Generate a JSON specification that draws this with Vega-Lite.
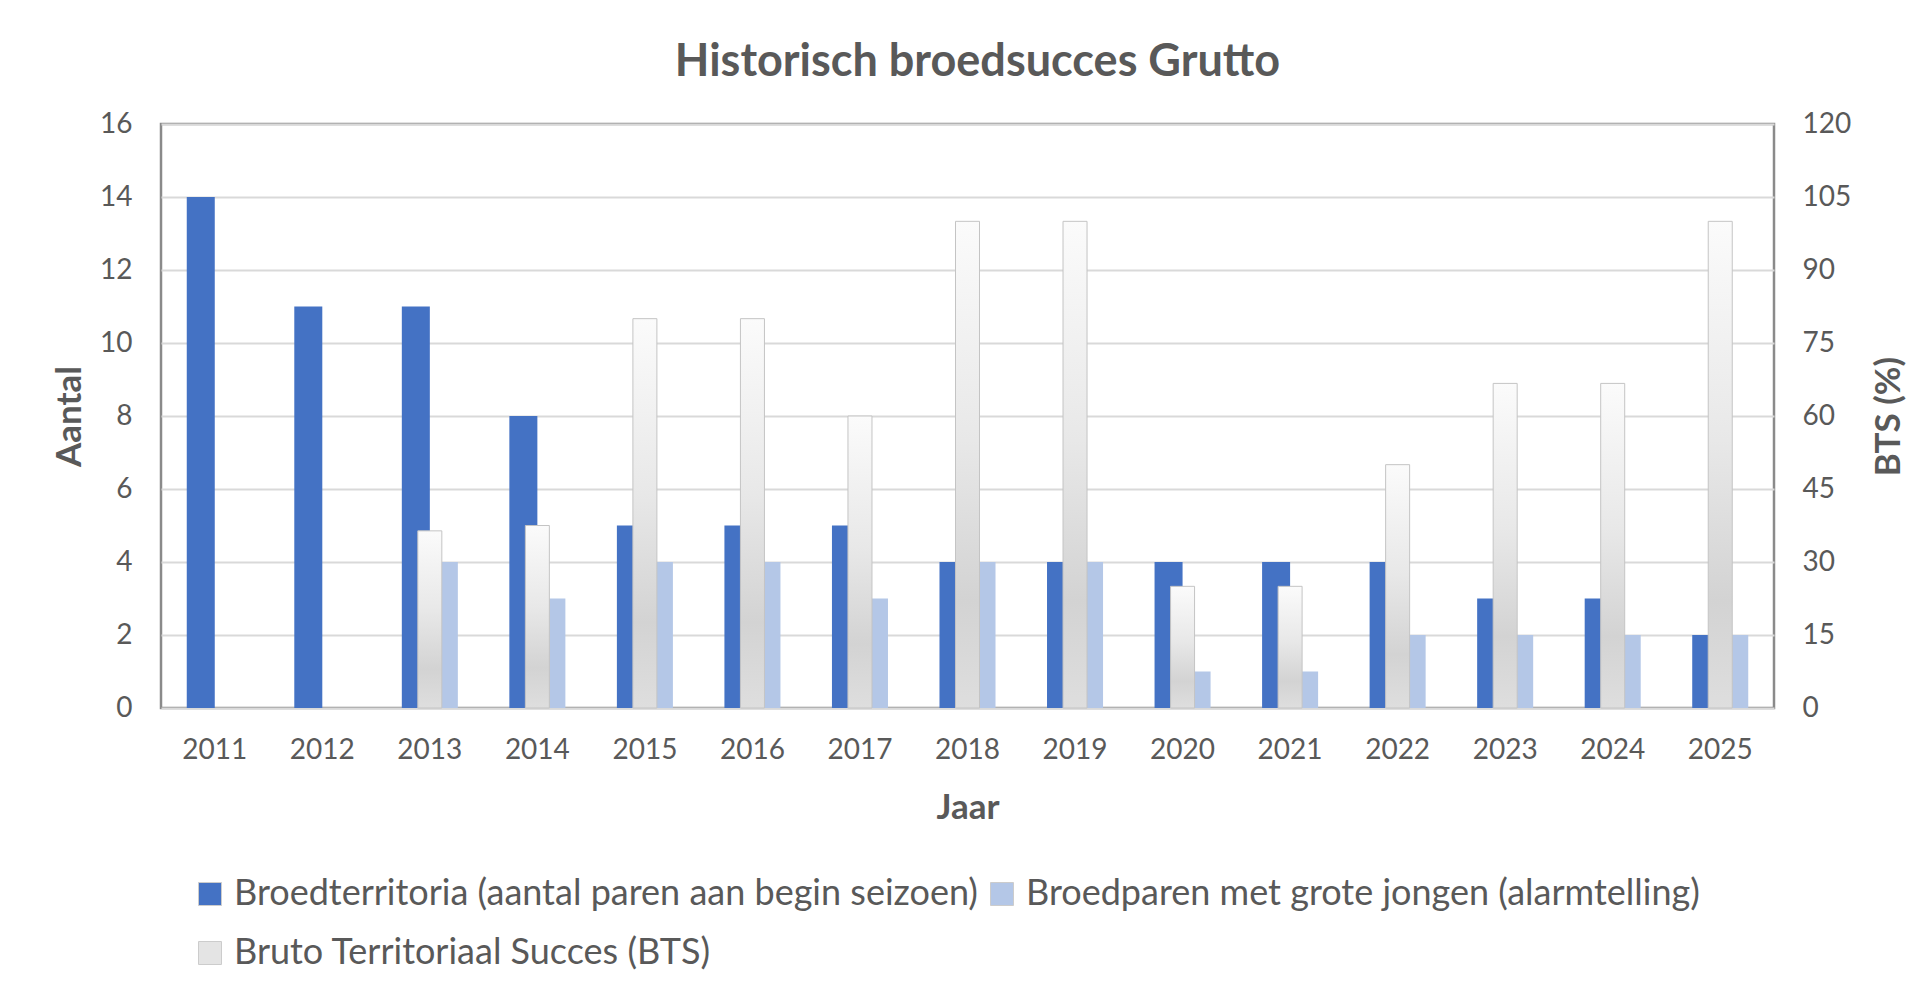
{
  "$schema": "https://vega.github.io/schema/vega-lite/v6.json",
  "autosize": {"type": "none"},
  "width": 1613,
  "height": 584,
  "padding": {"left": 161, "top": 124, "right": 147, "bottom": 284},
  "background": "white",
  "title": {
    "text": "Historisch broedsucces Grutto",
    "font": "Lato",
    "fontSize": 45,
    "fontWeight": "bold",
    "color": "#595959",
    "anchor": "middle",
    "baseline": "bottom",
    "offset": -20,
    "dx": 10
  },
  "datasets": {
    "aantal": [
      {"Jaar": "2011", "serie": "Broedterritoria (aantal paren aan begin seizoen)", "aantal": 14},
      {"Jaar": "2012", "serie": "Broedterritoria (aantal paren aan begin seizoen)", "aantal": 11},
      {"Jaar": "2013", "serie": "Broedterritoria (aantal paren aan begin seizoen)", "aantal": 11},
      {"Jaar": "2014", "serie": "Broedterritoria (aantal paren aan begin seizoen)", "aantal": 8},
      {"Jaar": "2015", "serie": "Broedterritoria (aantal paren aan begin seizoen)", "aantal": 5},
      {"Jaar": "2016", "serie": "Broedterritoria (aantal paren aan begin seizoen)", "aantal": 5},
      {"Jaar": "2017", "serie": "Broedterritoria (aantal paren aan begin seizoen)", "aantal": 5},
      {"Jaar": "2018", "serie": "Broedterritoria (aantal paren aan begin seizoen)", "aantal": 4},
      {"Jaar": "2019", "serie": "Broedterritoria (aantal paren aan begin seizoen)", "aantal": 4},
      {"Jaar": "2020", "serie": "Broedterritoria (aantal paren aan begin seizoen)", "aantal": 4},
      {"Jaar": "2021", "serie": "Broedterritoria (aantal paren aan begin seizoen)", "aantal": 4},
      {"Jaar": "2022", "serie": "Broedterritoria (aantal paren aan begin seizoen)", "aantal": 4},
      {"Jaar": "2023", "serie": "Broedterritoria (aantal paren aan begin seizoen)", "aantal": 3},
      {"Jaar": "2024", "serie": "Broedterritoria (aantal paren aan begin seizoen)", "aantal": 3},
      {"Jaar": "2025", "serie": "Broedterritoria (aantal paren aan begin seizoen)", "aantal": 2},
      {"Jaar": "2011", "serie": "Broedparen met grote jongen (alarmtelling)", "aantal": 0},
      {"Jaar": "2012", "serie": "Broedparen met grote jongen (alarmtelling)", "aantal": 0},
      {"Jaar": "2013", "serie": "Broedparen met grote jongen (alarmtelling)", "aantal": 4},
      {"Jaar": "2014", "serie": "Broedparen met grote jongen (alarmtelling)", "aantal": 3},
      {"Jaar": "2015", "serie": "Broedparen met grote jongen (alarmtelling)", "aantal": 4},
      {"Jaar": "2016", "serie": "Broedparen met grote jongen (alarmtelling)", "aantal": 4},
      {"Jaar": "2017", "serie": "Broedparen met grote jongen (alarmtelling)", "aantal": 3},
      {"Jaar": "2018", "serie": "Broedparen met grote jongen (alarmtelling)", "aantal": 4},
      {"Jaar": "2019", "serie": "Broedparen met grote jongen (alarmtelling)", "aantal": 4},
      {"Jaar": "2020", "serie": "Broedparen met grote jongen (alarmtelling)", "aantal": 1},
      {"Jaar": "2021", "serie": "Broedparen met grote jongen (alarmtelling)", "aantal": 1},
      {"Jaar": "2022", "serie": "Broedparen met grote jongen (alarmtelling)", "aantal": 2},
      {"Jaar": "2023", "serie": "Broedparen met grote jongen (alarmtelling)", "aantal": 2},
      {"Jaar": "2024", "serie": "Broedparen met grote jongen (alarmtelling)", "aantal": 2},
      {"Jaar": "2025", "serie": "Broedparen met grote jongen (alarmtelling)", "aantal": 2}
    ],
    "bts": [
      {"Jaar": "2013", "BTS": 36.4},
      {"Jaar": "2014", "BTS": 37.5},
      {"Jaar": "2015", "BTS": 80},
      {"Jaar": "2016", "BTS": 80},
      {"Jaar": "2017", "BTS": 60},
      {"Jaar": "2018", "BTS": 100},
      {"Jaar": "2019", "BTS": 100},
      {"Jaar": "2020", "BTS": 25},
      {"Jaar": "2021", "BTS": 25},
      {"Jaar": "2022", "BTS": 50},
      {"Jaar": "2023", "BTS": 66.7},
      {"Jaar": "2024", "BTS": 66.7},
      {"Jaar": "2025", "BTS": 100}
    ]
  },
  "layer": [
    {
      "data": {"name": "aantal"},
      "mark": {"type": "bar"},
      "encoding": {
        "x": {
          "field": "Jaar",
          "type": "ordinal",
          "scale": {"paddingInner": 0.479, "paddingOuter": 0.2395},
          "axis": {"title": "Jaar", "labelAngle": 0, "grid": false, "labelPadding": 28, "titlePadding": 26}
        },
        "xOffset": {
          "field": "serie",
          "type": "nominal",
          "scale": {"domain": ["Broedterritoria (aantal paren aan begin seizoen)", "Broedparen met grote jongen (alarmtelling)"], "paddingInner": 0, "paddingOuter": 0}
        },
        "y": {
          "field": "aantal",
          "type": "quantitative",
          "scale": {"domain": [0, 16], "nice": false},
          "axis": {"title": "Aantal", "values": [0, 2, 4, 6, 8, 10, 12, 14, 16], "grid": true, "labelPadding": 29, "titlePadding": 12}
        },
        "color": {
          "field": "serie",
          "type": "nominal",
          "scale": {
            "domain": ["Broedterritoria (aantal paren aan begin seizoen)", "Broedparen met grote jongen (alarmtelling)", "Bruto Territoriaal Succes (BTS)"],
            "range": ["#4472C4", "#B4C7E7", "#e4e4e4"]
          },
          "legend": {
            "title": null,
            "orient": "none",
            "legendX": 31,
            "legendY": 752,
            "direction": "horizontal",
            "columns": 2,
            "symbolType": "square",
            "symbolSize": 529,
            "symbolStrokeColor": "#cccccc",
            "symbolStrokeWidth": 1,
            "labelFont": "Lato",
            "labelFontSize": 36,
            "labelColor": "#595959",
            "labelOffset": 6,
            "labelLimit": 3000,
            "columnPadding": 6,
            "rowPadding": 23,
            "padding": 0
          }
        }
      }
    },
    {
      "data": {"name": "bts"},
      "mark": {
        "type": "bar",
        "width": {"band": 0.4286},
        "stroke": "#c4c4c4",
        "strokeWidth": 1,
        "fill": {
          "gradient": "linear",
          "x1": 0, "y1": 0, "x2": 0, "y2": 1,
          "stops": [
            {"offset": 0, "color": "#fbfbfb"},
            {"offset": 0.45, "color": "#e8e8e8"},
            {"offset": 0.78, "color": "#d3d3d3"},
            {"offset": 1, "color": "#dedede"}
          ]
        }
      },
      "encoding": {
        "x": {"field": "Jaar", "type": "ordinal"},
        "y": {
          "field": "BTS",
          "type": "quantitative",
          "scale": {"domain": [0, 120], "nice": false},
          "axis": {"title": "BTS (%)", "orient": "right", "values": [0, 15, 30, 45, 60, 75, 90, 105, 120], "grid": false, "labelPadding": 28, "titleAngle": -90, "titleBaseline": "top", "titlePadding": 21}
        }
      }
    }
  ],
  "resolve": {"scale": {"y": "independent"}},
  "config": {
    "view": {"stroke": "#8a8a8a", "strokeWidth": 2.5},
    "axis": {
      "domain": false,
      "ticks": false,
      "labelFont": "Lato",
      "labelFontSize": 28,
      "labelColor": "#595959",
      "titleFont": "Lato",
      "titleFontSize": 35,
      "titleFontWeight": "bold",
      "titleColor": "#595959",
      "gridColor": "#d9d9d9",
      "gridWidth": 2
    }
  }
}
